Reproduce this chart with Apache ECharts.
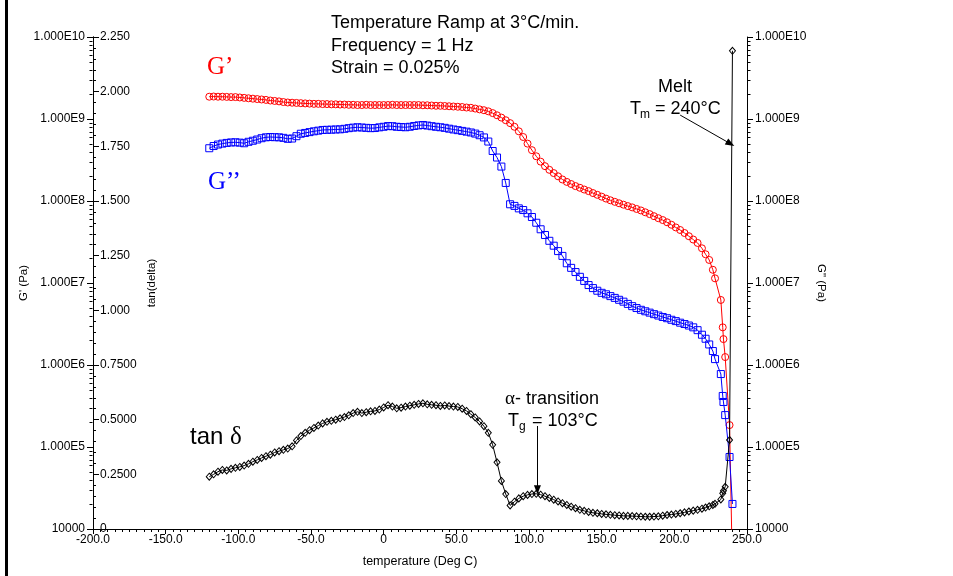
<!DOCTYPE html>
<html>
<head>
<meta charset="utf-8">
<script src="https://cdn.jsdelivr.net/npm/echarts@6/dist/echarts.min.js"></script>
<style>html,body{margin:0;padding:0;background:#fff;}#chart{width:953px;height:576px;}</style>
</head>
<body>
<div id="chart"></div>
<script>
// ---- data ----
const temps = [-120,-117,-114,-111,-108,-105,-102,-99,-96,-93,
  -90,-87,-84,-81,-78,-75,-72,-69,-66,-63,
  -60,-57,-54,-51,-48,-45,-42,-39,-36,-33,
  -30,-27,-24,-21,-18,-15,-12,-9,-6,-3,
  0,3,6,9,12,15,18,21,24,27,
  30,33,36,39,42,45,48,51,54,57,
  60,63,66,69,72,75,78,81,84,87,
  90,93,96,99,102,105,108,111,114,117,
  120,123,126,129,132,135,138,141,144,147,
  150,153,156,159,162,165,168,171,174,177,
  180,183,186,189,192,195,198,201,204,207,
  210,213,216,
  219,221.5,224,226.5,228,232,233.3,233.8,235,238,240];

const gPrime = [1.87e9,1.88e9,1.87e9,1.87e9,1.86e9,1.85e9,1.85e9,1.83e9,1.81e9,1.79e9,
  1.77e9,1.75e9,1.73e9,1.71e9,1.68e9,1.66e9,1.64e9,1.61e9,1.59e9,1.58e9,
  1.57e9,1.56e9,1.55e9,1.54e9,1.53e9,1.53e9,1.52e9,1.52e9,1.51e9,1.51e9,
  1.50e9,1.50e9,1.49e9,1.49e9,1.48e9,1.48e9,1.49e9,1.48e9,1.48e9,1.48e9,
  1.48e9,1.48e9,1.49e9,1.48e9,1.48e9,1.48e9,1.48e9,1.48e9,1.48e9,1.47e9,
  1.47e9,1.46e9,1.45e9,1.45e9,1.44e9,1.43e9,1.42e9,1.41e9,1.40e9,1.38e9,
  1.37e9,1.34e9,1.31e9,1.28e9,1.24e9,1.18e9,1.11e9,1.04e9,9.66e8,8.91e8,
  8.04e8,7.08e8,6.03e8,5.01e8,4.17e8,3.51e8,3.02e8,2.66e8,2.40e8,2.19e8,
  2.00e8,1.83e8,1.71e8,1.61e8,1.52e8,1.45e8,1.38e8,1.32e8,1.25e8,1.19e8,
  1.13e8,1.07e8,1.02e8,9.77e7,9.38e7,9.02e7,8.67e7,8.36e7,8.00e7,7.67e7,
  7.28e7,6.92e7,6.53e7,6.17e7,5.86e7,5.50e7,5.13e7,4.76e7,4.43e7,4.07e7,
  3.72e7,3.39e7,3.08e7,
  2.65e7,2.24e7,1.91e7,1.45e7,1.14e7,6.21e6,2.88e6,2.07e6,1.25e6,1.85e5,3.0e3];

const gDoublePrime = [4.40e8,4.68e8,4.88e8,5.01e8,5.11e8,5.18e8,5.20e8,5.15e8,5.06e8,5.27e8,
  5.43e8,5.62e8,5.83e8,5.98e8,6.03e8,6.00e8,5.98e8,5.89e8,5.73e8,5.78e8,
  6.17e8,6.61e8,6.76e8,6.92e8,7.08e8,7.21e8,7.35e8,7.38e8,7.41e8,7.45e8,
  7.48e8,7.59e8,7.73e8,7.85e8,7.93e8,7.87e8,7.80e8,7.73e8,7.76e8,7.91e8,
  8.04e8,8.20e8,8.17e8,8.04e8,7.98e8,7.93e8,8.04e8,8.22e8,8.36e8,8.45e8,
  8.32e8,8.17e8,8.04e8,7.93e8,7.80e8,7.62e8,7.45e8,7.31e8,7.16e8,7.01e8,
  6.85e8,6.64e8,6.34e8,5.96e8,5.31e8,4.07e8,3.39e8,2.63e8,1.66e8,9.12e7,
  8.71e7,8.13e7,7.76e7,7.08e7,6.38e7,5.43e7,4.52e7,3.85e7,3.27e7,2.85e7,
  2.45e7,2.14e7,1.74e7,1.53e7,1.36e7,1.19e7,1.06e7,9.44e6,8.67e6,8.05e6,
  7.59e6,7.28e6,6.92e6,6.58e6,6.24e6,5.92e6,5.56e6,5.22e6,4.95e6,4.71e6,
  4.52e6,4.35e6,4.17e6,4.01e6,3.85e6,3.72e6,3.56e6,3.43e6,3.28e6,3.16e6,
  3.03e6,2.88e6,2.66e6,
  2.34e6,2.09e6,1.78e6,1.48e6,1.18e6,7.76e5,4.19e5,3.54e5,2.45e5,7.55e4,2.02e4];

const tanDelta = [0.239,0.250,0.262,0.270,0.268,0.275,0.280,0.284,0.290,0.298,
  0.308,0.316,0.325,0.333,0.340,0.350,0.356,0.362,0.368,0.378,
  0.405,0.425,0.440,0.452,0.462,0.473,0.483,0.490,0.495,0.500,
  0.506,0.512,0.520,0.530,0.536,0.530,0.534,0.538,0.540,0.546,
  0.556,0.566,0.560,0.552,0.555,0.560,0.564,0.568,0.572,0.575,
  0.570,0.568,0.566,0.563,0.565,0.562,0.560,0.558,0.550,0.540,
  0.525,0.510,0.492,0.470,0.440,0.385,0.305,0.220,0.160,0.108,
  0.125,0.140,0.150,0.156,0.160,0.161,0.157,0.150,0.142,0.134,
  0.126,0.118,0.110,0.102,0.095,0.088,0.083,0.078,0.074,0.072,
  0.069,0.067,0.065,0.063,0.062,0.060,0.060,0.059,0.058,0.057,
  0.056,0.056,0.057,0.058,0.061,0.064,0.066,0.069,0.072,0.076,
  0.080,0.084,0.088,
  0.093,0.098,0.104,0.110,0.115,0.135,0.163,0.175,0.193,0.407,2.187];

// minor tick values of the logarithmic modulus axes
const logMinorTicks = [2e4,3e4,4e4,5e4,6e4,7e4,8e4,9e4,
  2e5,3e5,4e5,5e5,6e5,7e5,8e5,9e5,
  2e6,3e6,4e6,5e6,6e6,7e6,8e6,9e6,
  2e7,3e7,4e7,5e7,6e7,7e7,8e7,9e7,
  2e8,3e8,4e8,5e8,6e8,7e8,8e8,9e8,
  2e9,3e9,4e9,5e9,6e9,7e9,8e9,9e9];

// annotation arrows (data coordinates on the tan(delta) axis)
const alphaArrow = [[105.8, 0.471], [105.8, 0.180]];
const meltArrow = [[204, 1.893], [238.6, 1.762]];

// ---- chart ----
const SANS = '"Liberation Sans", Arial, sans-serif';
const SERIF = '"Liberation Serif", "Times New Roman", serif';
const chart = echarts.init(document.getElementById('chart'), null, {renderer: 'canvas'});

const pair = (arr) => temps.map((t, i) => [t, arr[i]]);
const logLabel = (v) => (v <= 1.0001e4 ? '10000' : '1.000E' + Math.round(Math.log10(v)));
const black = {color: '#000', width: 1};

function minorTickSeries(yAxisIndex, xVal, dir) {
  return {
    type: 'custom', xAxisIndex: 0, yAxisIndex: yAxisIndex, silent: true, clip: false,
    data: logMinorTicks.map(v => [xVal, v]),
    renderItem: function (params, api) {
      const p = api.coord([api.value(0), api.value(1)]);
      const x = Math.round(p[0]) + 0.5 * dir;
      const y = Math.round(p[1]) + 0.5;
      return {type: 'line', shape: {x1: x, y1: y, x2: x + 3 * dir, y2: y},
              style: {stroke: '#000', lineWidth: 1}};
    }
  };
}

const option = {
  animation: false,
  backgroundColor: '#fff',
  textStyle: {fontFamily: SANS},
  grid: {left: 93, right: 206, top: 37, bottom: 47, containLabel: false},
  xAxis: {
    type: 'value', min: -200, max: 250, interval: 50,
    axisLine: {onZero: false, lineStyle: black},
    axisTick: {length: 5, lineStyle: black},
    minorTick: {show: true, splitNumber: 10, length: 3, lineStyle: black},
    splitLine: {show: false},
    axisLabel: {color: '#000', fontSize: 12, fontFamily: SANS, margin: 5,
      formatter: v => (v === 0 ? '0' : v.toFixed(1))},
    name: 'temperature (Deg C)', nameLocation: 'middle', nameGap: 26,
    nameTextStyle: {color: '#000', fontSize: 12.5, fontFamily: SANS}
  },
  yAxis: [
    {
      type: 'log', logBase: 10, min: 1e4, max: 1e10, interval: 1, position: 'left',
      axisLine: {show: true, onZero: false, lineStyle: black},
      axisTick: {show: true, length: 6, lineStyle: black},
      splitLine: {show: false},
      axisLabel: {color: '#000', fontSize: 12, fontFamily: SANS, margin: 8, formatter: logLabel},
      name: "G' (Pa)", nameLocation: 'middle', nameGap: 63, nameMoveOverlap: false,
      nameTextStyle: {color: '#000', fontSize: 11.5, fontFamily: SANS}
    },
    {
      type: 'value', min: 0, max: 2.25, interval: 0.25, position: 'left',
      axisLine: {show: true, onZero: false, lineStyle: black},
      axisTick: {show: true, inside: true, length: 6, lineStyle: black},
      minorTick: {show: true, splitNumber: 5, length: 3, lineStyle: black},
      splitLine: {show: false},
      axisLabel: {inside: true, color: '#000', fontSize: 12, fontFamily: SANS, margin: 7,
        formatter: v => (v === 0 ? '0' : (v >= 1 ? v.toFixed(3) : v.toFixed(4)))},
      name: 'tan(delta)', nameLocation: 'middle', nameGap: -65, nameMoveOverlap: false,
      nameTextStyle: {color: '#000', fontSize: 11.5, fontFamily: SANS}
    },
    {
      type: 'log', logBase: 10, min: 1e4, max: 1e10, interval: 1, position: 'right',
      axisLine: {show: true, onZero: false, lineStyle: black},
      axisTick: {show: true, length: 6, lineStyle: black},
      splitLine: {show: false},
      axisLabel: {color: '#000', fontSize: 12, fontFamily: SANS, margin: 8, formatter: logLabel},
      name: 'G" (Pa)', nameLocation: 'middle', nameGap: 68, nameRotate: -90, nameMoveOverlap: false,
      nameTextStyle: {color: '#000', fontSize: 11.5, fontFamily: SANS}
    }
  ],
  series: [
    {
      name: "G'", type: 'line', xAxisIndex: 0, yAxisIndex: 0, data: pair(gPrime),
      symbol: 'circle', symbolSize: 7, showAllSymbol: true, clip: true,
      lineStyle: {color: '#ff0000', width: 1},
      itemStyle: {color: 'rgba(0,0,0,0)', borderColor: '#ff0000', borderWidth: 1},
      emphasis: {disabled: true}, z: 2
    },
    {
      name: 'G"', type: 'line', xAxisIndex: 0, yAxisIndex: 2, data: pair(gDoublePrime),
      symbol: 'rect', symbolSize: 7, showAllSymbol: true, clip: true,
      lineStyle: {color: '#0000ff', width: 1},
      itemStyle: {color: 'rgba(0,0,0,0)', borderColor: '#0000ff', borderWidth: 1},
      emphasis: {disabled: true}, z: 3
    },
    {
      name: 'tan delta', type: 'line', xAxisIndex: 0, yAxisIndex: 1, data: pair(tanDelta),
      symbol: 'diamond', symbolSize: [6, 7], showAllSymbol: true, clip: true,
      lineStyle: {color: '#000', width: 1},
      itemStyle: {color: 'rgba(0,0,0,0)', borderColor: '#000', borderWidth: 1},
      emphasis: {disabled: true}, z: 4,
      markLine: {
        silent: true, animation: false, symbol: ['none', 'triangle'], symbolSize: [7, 9],
        lineStyle: {color: '#000', width: 1, type: 'solid'},
        itemStyle: {color: '#000'},
        label: {show: false},
        data: [
          [{coord: alphaArrow[0]}, {coord: alphaArrow[1]}],
          [{coord: meltArrow[0]}, {coord: meltArrow[1]}]
        ]
      }
    },
    minorTickSeries(0, -200, -1),
    minorTickSeries(2, 250, 1)
  ],
  graphic: [
    {type: 'rect', shape: {x: 5, y: 0, width: 3, height: 576}, style: {fill: '#000'}, silent: true},
    {type: 'text', x: 331, y: 12, silent: true,
      style: {text: 'Temperature Ramp at 3°C/min.\nFrequency = 1 Hz\nStrain = 0.025%',
        font: '18px ' + SANS, lineHeight: 22.5, fill: '#000', verticalAlign: 'top'}},
    {type: 'text', x: 207, y: 67, silent: true,
      style: {text: 'G’', font: '25px ' + SERIF, fill: '#ff0000', verticalAlign: 'middle'}},
    {type: 'text', x: 208, y: 182, silent: true,
      style: {text: 'G’’', font: '25px ' + SERIF, fill: '#0000ff', verticalAlign: 'middle'}},
    {type: 'text', x: 190, y: 437, silent: true,
      style: {text: '{a|tan }{b|δ}', verticalAlign: 'middle', fill: '#000',
        rich: {a: {font: '24px ' + SANS, fill: '#000'}, b: {font: '25px ' + SERIF, fill: '#000'}}}},
    {type: 'text', x: 505, y: 399, silent: true,
      style: {text: '{a|α}{b|- transition}', verticalAlign: 'middle', fill: '#000',
        rich: {a: {font: '19px ' + SERIF, fill: '#000'}, b: {font: '18px ' + SANS, fill: '#000'}}}},
    {type: 'text', x: 508, y: 421, silent: true,
      style: {text: 'T', font: '18px ' + SANS, fill: '#000', verticalAlign: 'middle'}},
    {type: 'text', x: 519, y: 427, silent: true,
      style: {text: 'g', font: '12px ' + SANS, fill: '#000', verticalAlign: 'middle'}},
    {type: 'text', x: 527, y: 421, silent: true,
      style: {text: ' = 103°C', font: '18px ' + SANS, fill: '#000', verticalAlign: 'middle'}},
    {type: 'text', x: 658, y: 87, silent: true,
      style: {text: 'Melt', font: '18px ' + SANS, fill: '#000', verticalAlign: 'middle'}},
    {type: 'text', x: 630, y: 109, silent: true,
      style: {text: 'T', font: '18px ' + SANS, fill: '#000', verticalAlign: 'middle'}},
    {type: 'text', x: 640, y: 115, silent: true,
      style: {text: 'm', font: '12px ' + SANS, fill: '#000', verticalAlign: 'middle'}},
    {type: 'text', x: 650, y: 109, silent: true,
      style: {text: ' = 240°C', font: '18px ' + SANS, fill: '#000', verticalAlign: 'middle'}}
  ]
};
chart.setOption(option);
</script>
</body>
</html>
